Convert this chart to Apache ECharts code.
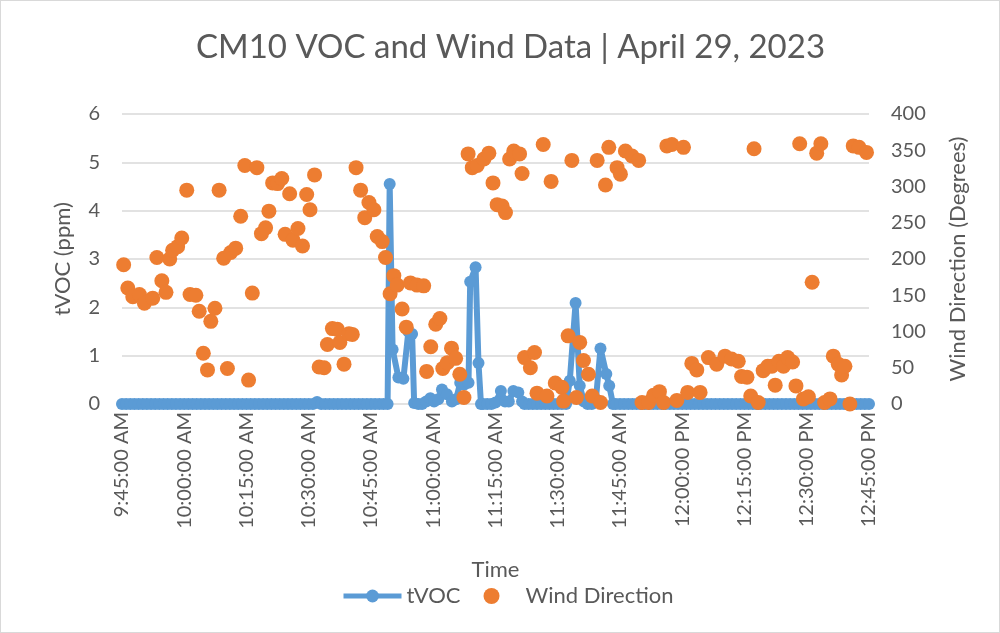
<!DOCTYPE html>
<html>
<head>
<meta charset="utf-8">
<script src="https://cdn.jsdelivr.net/npm/echarts@6/dist/echarts.min.js"></script>
<style>
html,body{margin:0;padding:0;background:#fff;}
#chart{width:1000px;height:633px;box-sizing:border-box;border:1px solid #d9d9d9;}
</style>
</head>
<body>
<div id="chart"></div>
<script>
// minutes after 9:45 AM
var vocMinutes = [0,1,2,3,4,5,6,7,8,9,10,11,12,13,14,15,16,17,18,19,20,21,22,23,24,25,26,27,28,29,30,31,32,33,34,35,36,37,38,39,40,41,42,43,44,45,46,47,48,49,50,51,52,53,54,55,56,57,58,59,60,61,62,63,
  64,64.5,65.2,66.6,67.8,69,69.9,70.4,71.4,72.3,73.3,74.3,75.2,76.2,77.1,78.3,79.5,80.5,81.5,82.4,83.5,83.9,85.2,85.9,86.5,87,88,89,90,91.3,92.3,93.2,94.3,95.5,96.4,
  97,98,99,100,101,102,103,104,105,106,107,107.9,109.3,110.3,111.3,112.2,113.2,114.2,115.3,116.7,117.4,118.3,
  119,120,121,122,123,124,125,126,127,128,129,130,131,132,133,134,135,136,137,138,139,140,141,142,143,144,145,146,147,148,149,150,151,152,153,154,155,156,157,158,159,160,161,162,163,164,165,166,167,168,169,170,171,172,173,174,175,176,177,178,179,180];
var vocPpm = [0,0,0,0,0,0,0,0,0,0,0,0,0,0,0,0,0,0,0,0,0,0,0,0,0,0,0,0,0,0,0,0,0,0,0,0,0,0,0,0,0,0,0,0,0,0,0,0.04,0,0,0,0,0,0,0,0,0,0,0,0,0,0,0,0,
  0,4.55,1.13,0.55,0.52,1.5,1.45,0.02,0,0,0.05,0.12,0.05,0.1,0.3,0.2,0.05,0.1,0.44,0.4,0.44,2.53,2.83,0.85,0,0,0,0,0.03,0.27,0.05,0.05,0.27,0.24,0.05,
  0,0,0,0,0,0,0,0,0,0,0,0.48,2.09,0.38,0.05,0,0,0.1,1.15,0.62,0.38,0,
  0,0,0,0,0,0,0,0,0,0,0,0,0,0,0,0,0,0,0,0,0,0,0,0,0,0,0,0,0,0,0,0,0,0,0,0,0,0,0,0,0,0,0,0,0,0,0,0,0,0,0,0,0,0,0,0,0,0,0,0,0,0];
var windMinutes = [0.4,1.4,2.6,4.2,5.4,7.4,8.4,9.6,10.6,11.5,12.2,13.4,14.4,15.6,16.4,17.8,18.6,19.6,20.6,21.4,
  22.4,23.4,24.5,25.4,26.2,27.4,28.6,29.6,30.5,31.4,32.5,33.6,34.6,35.4,36.3,37.5,38.5,39.3,40.4,41.2,
  42.4,43.5,44.5,45.3,46.4,47.5,48.7,49.5,50.7,51.9,52.5,53.5,54.7,55.5,56.4,57.5,58.5,59.5,60.7,61.5,
  62.7,63.5,64.6,65.5,66.3,67.5,68.5,69.5,71.1,72.7,73.4,74.4,75.6,76.6,77.3,78.4,79.4,80.4,81.4,82.4,
  83.4,84.4,85.6,87.2,88.4,89.4,90.4,91.6,92.4,93.4,94.4,95.8,96.4,97,98.4,99.4,100,101.5,102.4,103.4,
  104.4,106,106.4,107.5,108.4,109.5,110.3,111.2,112.4,113.3,114.5,115.3,116.5,117.3,119.3,120.1,121.3,122.9,124.5,125.3,
  126.9,128.1,129.5,130.5,131.3,132.5,133.7,135.3,136.3,137.3,138.5,139.3,141.3,143.3,145.3,146.9,148.5,149.3,150.6,151.5,
  152.3,153.3,154.5,155.6,156.6,157.4,158.3,159.4,160.4,161.6,162.4,163.3,164.2,165.4,166.3,167.4,168.4,169.3,170.6,171.4,
  172.6,173.4,174.2,175.4,176.2,177.6,179.4,180.3];
var windDegrees = [192,160,148,151,139,146,202,170,154,200,212,217,229,295,151,150,128,70,47,114,
  132,295,201,49,209,215,259,329,33,153,326,235,243,266,305,304,311,234,290,226,
  242,218,289,268,316,51,50,82,104,103,85,55,97,96,326,295,257,278,268,231,
  224,202,152,177,164,131,106,167,164,163,45,79,110,118,49,57,77,63,41,9,
  345,326,329,338,346,305,275,273,264,338,349,345,318,64,50,71,15,358,11,307,
  29,23,4,94,336,9,85,60,41,11,336,2,302,354,326,317,349,342,336,2,
  2,12,17,2,356,358,5,354,16,56,47,16,64,55,66,62,59,38,37,11,
  352,2,46,52,52,26,59,52,64,58,25,359,7,10,168,346,359,2,7,66,
  55,40,52,0,356,354,347,2];
var titleText = 'CM10 VOC and Wind Data | April 29, 2023';
var startMinuteOfDay = 585; // 9:45 AM

function fmtTime(v){
  var t = Math.round(startMinuteOfDay + v);
  var h = Math.floor(t/60), m = t%60;
  var ap = h >= 12 ? 'PM' : 'AM';
  var hh = h > 12 ? h-12 : h;
  return hh + ':' + (m<10?'0':'') + m + ':00 ' + ap;
}

var vocData = vocMinutes.map(function(m,i){return [m, vocPpm[i]];});
var windData = windMinutes.map(function(m,i){return [m, windDegrees[i]];});

var FONT = 'Lato';
var TXT = '#595959';
var BLUE = '#5B9BD5', ORANGE = '#ED7D31';
var chart = echarts.init(document.getElementById('chart'), null, {renderer:'canvas'});
chart.setOption({
  animation:false,
  textStyle:{fontFamily:FONT, color:TXT},
  title:{text:titleText, left:190, top:25, textStyle:{fontFamily:FONT, fontSize:33, fontWeight:'normal', color:TXT}},
  grid:{left:121, right:130, top:113, bottom:228},
  legend:{bottom:20, left:335, itemGap:23, itemWidth:58, itemHeight:16,
    textStyle:{fontFamily:FONT, fontSize:22, color:TXT},
    data:[
      {name:'tVOC', lineStyle:{width:5, color:BLUE}},
      {name:'Wind Direction', icon:'circle'}
    ]},
  xAxis:{type:'value', min:0, max:180, interval:15,
    name:'Time', nameLocation:'middle', nameGap:155,
    nameTextStyle:{fontFamily:FONT, fontSize:22, color:TXT},
    axisLine:{show:false}, axisTick:{show:false}, splitLine:{show:false},
    axisLabel:{rotate:90, margin:8, fontFamily:FONT, fontSize:20, color:TXT, formatter:fmtTime}},
  yAxis:[
    {type:'value', min:0, max:6, interval:1, name:'tVOC (ppm)', nameLocation:'middle', nameGap:48,
      nameTextStyle:{fontFamily:FONT, fontSize:22, color:TXT},
      axisLine:{show:false}, axisTick:{show:false},
      splitLine:{lineStyle:{color:'#d9d9d9', width:1.5}},
      axisLabel:{margin:22, fontFamily:FONT, fontSize:20, color:TXT}},
    {type:'value', min:0, max:400, interval:50, name:'Wind Direction (Degrees)', nameLocation:'middle', nameGap:78,
      nameRotate:90,
      nameTextStyle:{fontFamily:FONT, fontSize:22, color:TXT},
      axisLine:{show:false}, axisTick:{show:false}, splitLine:{show:false},
      axisLabel:{margin:22, fontFamily:FONT, fontSize:20, color:TXT}}
  ],
  series:[
    {name:'tVOC', type:'line', yAxisIndex:0, data:vocData, symbol:'circle', symbolSize:12, showAllSymbol:true,
      lineStyle:{color:BLUE, width:6}, itemStyle:{color:BLUE}, z:2},
    {name:'Wind Direction', type:'scatter', yAxisIndex:1, data:windData, symbol:'circle', symbolSize:15,
      itemStyle:{color:ORANGE, opacity:1}, z:3}
  ]
});
</script>
</body>
</html>
